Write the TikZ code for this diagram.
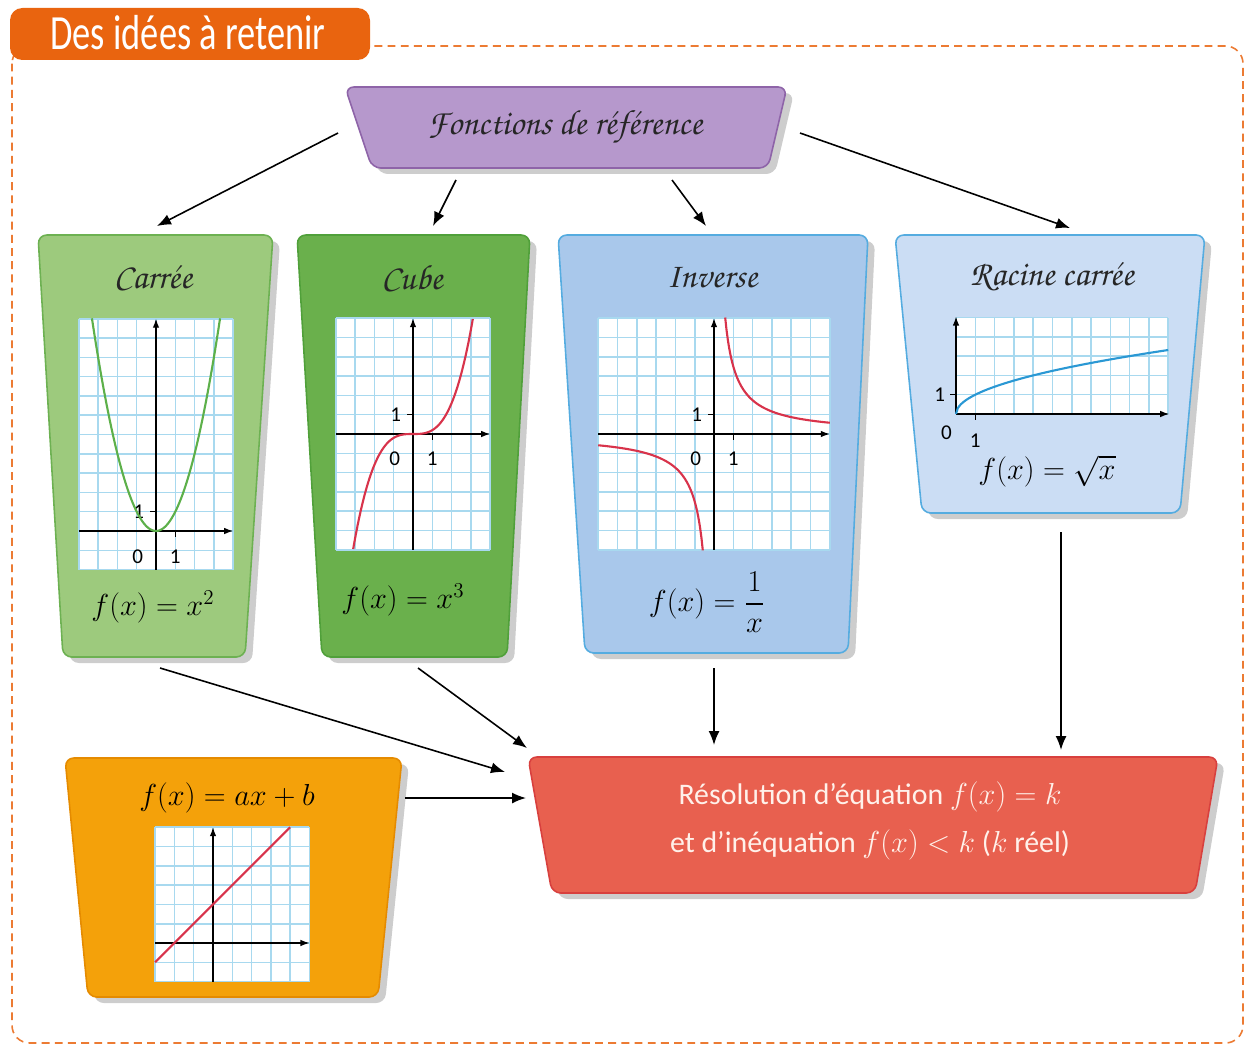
\documentclass[tikz,border=0pt]{standalone}
\usepackage[T1]{fontenc}
\usepackage{amsmath}
\usepackage{graphicx}
\usepackage{fontspec}
\setmainfont{Carlito}
\usepackage{tikz}
\usetikzlibrary{arrows.meta, positioning, calc}
\definecolor{tabOrange}{HTML}{E9640F}
\definecolor{frameOrange}{HTML}{EC7B33}
\definecolor{foncFill}{HTML}{B698CC}
\definecolor{foncDraw}{HTML}{8E64A8}
\definecolor{carreeFill}{HTML}{9DCA7D}
\definecolor{carreeDraw}{HTML}{6DB152}
\definecolor{cubeFill}{HTML}{6AB04C}
\definecolor{cubeDraw}{HTML}{50A03A}
\definecolor{inverseFill}{HTML}{A9C8EB}
\definecolor{racineFill}{HTML}{CBDDF4}
\definecolor{blueDraw}{HTML}{55ACE0}
\definecolor{affineFill}{HTML}{F4A10A}
\definecolor{affineDraw}{HTML}{E58B00}
\definecolor{resoFill}{HTML}{E8604F}
\definecolor{resoDraw}{HTML}{D8403E}
\definecolor{resoText}{HTML}{FFF1EA}
\definecolor{gridBlue}{HTML}{A8D9EF}
\definecolor{curveRed}{HTML}{D8334B}
\definecolor{curveGreen}{HTML}{5DB04A}
\definecolor{curveBlue}{HTML}{2A98D4}
\definecolor{shadowGray}{HTML}{CDCDCD}
\newcommand{\handfont}{\fontencoding{T1}\fontfamily{pzc}\fontseries{mb}\fontshape{it}\selectfont}
% one trapezoid card: style, top-left x, top-right x, top y, bottom-left x, bottom-right x, bottom y
\newcommand{\carte}[7]{%
  \fill[shadowbox, shift={(7,6)}] (#2,#4) -- (#3,#4) -- (#6,#7) -- (#5,#7) -- cycle;
  \path[carte, #1] (#2,#4) -- (#3,#4) -- (#6,#7) -- (#5,#7) -- cycle;
}
\tikzset{
carte/.style={
rounded corners=5pt,
line width=0.9pt
},
shadowbox/.style={
fill=shadowGray,
rounded corners=5pt
},
flow/.style={
-{Latex[length=2.8mm,width=2.2mm]},
line width=0.9pt,
draw=black
},
axis/.style={
-{Latex[length=1.8mm,width=1.3mm]},
line width=0.7pt,
draw=black
},
gridline/.style={
draw=gridBlue,
line width=0.9pt,
step=1
},
scripttitle/.style={
font=\handfont\fontsize{20}{22}\selectfont,
text=black!85
},
formula/.style={
font=\fontsize{17}{20}\selectfont,
text=black
},
ticklabel/.style={
font=\fontsize{12}{12}\selectfont,
inner sep=1pt
},
curve/.style={
line width=1.2pt,
samples=80
}
}

\begin{document}
\begin{tikzpicture}[x=0.02cm, y=-0.02cm]

\useasboundingbox (0,0) rectangle (1248,1051);

% frame and tab
\draw[frameOrange, line width=0.9pt, dash pattern=on 4.5pt off 3pt, rounded corners=10pt]
  (12,46) rectangle (1243,1043);
\fill[tabOrange, rounded corners=7pt] (10,8) rectangle (370,60);
\node[text=white, font=\fontsize{28}{28}\selectfont] (tab) at (188,33)
  {\scalebox{0.74}[1]{Des idées à retenir}};

% cards
\carte{fill=foncFill, draw=foncDraw}{345}{787}{87}{372}{768}{168}
\carte{fill=carreeFill, draw=carreeDraw}{38}{273}{235}{63}{245}{657}
\carte{fill=cubeFill, draw=cubeDraw}{297}{530}{235}{322}{507}{657}
\carte{fill=inverseFill, draw=blueDraw}{558}{868}{235}{585}{848}{653}
\carte{fill=racineFill, draw=blueDraw}{895}{1205}{235}{922}{1180}{513}
\carte{fill=affineFill, draw=affineDraw}{65}{402}{758}{88}{378}{997}
\carte{fill=resoFill, draw=resoDraw}{528}{1218}{757}{552}{1195}{893}

\node[scripttitle] (fonc) at (565,127) {Fonctions de r\'ef\'erence};
\node[scripttitle] (carree) at (153,277) {Carr\'ee};
\node[scripttitle] (cube) at (412,277) {Cube};
\node[scripttitle] (inverse) at (712,277) {Inverse};
\node[scripttitle] (racine) at (1052,277) {Racine carr\'ee};

\node[formula] (fcarree) at (153,607) {$f(x)=x^2$};
\node[formula] (fcube) at (403,600) {$f(x)=x^3$};
\node[formula] (finverse) at (707,602) {$f(x)=\dfrac{1}{x}$};
\node[formula] (fracine) at (1047,471) {$f(x)=\sqrt{x}$};
\node[formula] (faffine) at (227,798) {$f(x)=ax+b$};

\node[text=resoText, align=center, font=\fontsize{17}{27}\selectfont] (reso) at (870,821)
  {Résolution d’équation $f(x)=k$\\et d’inéquation $f(x)<k$ ($k$ réel)};

% carree graph
\begin{scope}[shift={(156,531)}, x=0.386cm, y=0.386cm]
  \fill[white] (-4,-2) rectangle (4,11);
  \draw[gridline] (-4,-2) grid (4,11);
  \draw[axis] (-4,0) -- (4,0);
  \draw[axis] (0,-2) -- (0,11);
  \draw[line width=0.6pt] (1,0) -- (1,-0.3) (0,1) -- (-0.3,1);
  \node[ticklabel] (cy1) at (-0.9,1) {1};
  \node[ticklabel] (co) at (-0.95,-1.35) {0};
  \node[ticklabel] (cx1) at (1,-1.35) {1};
  \draw[curve, curveGreen, domain=-3.32:3.32] plot (\x,{\x*\x});
\end{scope}

% cube graph
\begin{scope}[shift={(413,434)}, x=0.386cm, y=0.386cm]
  \fill[white] (-4,-6) rectangle (4,6);
  \draw[gridline] (-4,-6) grid (4,6);
  \draw[axis] (-4,0) -- (4,0);
  \draw[axis] (0,-6) -- (0,6);
  \draw[line width=0.6pt] (1,0) -- (1,-0.3) (0,1) -- (-0.3,1);
  \node[ticklabel] (uy1) at (-0.9,1) {1};
  \node[ticklabel] (uo) at (-0.95,-1.3) {0};
  \node[ticklabel] (ux1) at (1,-1.3) {1};
  \draw[curve, curveRed, domain=-3.1:3.1] plot (\x,{0.2*\x*\x*\x});
\end{scope}

% inverse graph
\begin{scope}[shift={(714,434)}, x=0.386cm, y=0.386cm]
  \fill[white] (-6,-6) rectangle (6,6);
  \draw[gridline] (-6,-6) grid (6,6);
  \draw[axis] (-6,0) -- (6,0);
  \draw[axis] (0,-6) -- (0,6);
  \draw[line width=0.6pt] (1,0) -- (1,-0.3) (0,1) -- (-0.3,1);
  \node[ticklabel] (iy1) at (-0.9,1) {1};
  \node[ticklabel] (io) at (-0.95,-1.3) {0};
  \node[ticklabel] (ix1) at (1,-1.3) {1};
  \draw[curve, curveRed, domain=0.58:6] plot (\x,{3.5/\x});
  \draw[curve, curveRed, domain=-6:-0.58] plot (\x,{3.5/\x});
\end{scope}

% racine graph
\begin{scope}[shift={(956,414)}, x=0.386cm, y=0.386cm]
  \fill[white] (0,0) rectangle (11,5);
  \draw[gridline] (0,0) grid (11,5);
  \draw[axis] (0,0) -- (11.05,0);
  \draw[axis] (0,0) -- (0,5.05);
  \draw[line width=0.6pt] (1,0) -- (1,-0.3) (0,1) -- (-0.3,1);
  \node[ticklabel] (ry1) at (-0.85,1) {1};
  \node[ticklabel] (ro) at (-0.5,-0.95) {0};
  \node[ticklabel] (rx1) at (1,-1.4) {1};
  \draw[curve, curveBlue, domain=0:11, samples=120] plot (\x,{sqrt(\x)});
\end{scope}

% affine graph
\begin{scope}[shift={(213,943)}, x=0.386cm, y=0.386cm]
  \fill[white] (-3,-2) rectangle (5,6);
  \draw[gridline] (-3,-2) grid (5,6);
  \draw[axis] (-3,0) -- (5,0);
  \draw[axis] (0,-2) -- (0,6);
  \draw[curve, curveRed] (-3,-1) -- (4,6);
\end{scope}

% connector ends
\coordinate (fonc-w) at (338,133);
\coordinate (fonc-sw) at (456,180);
\coordinate (fonc-se) at (672,180);
\coordinate (fonc-e) at (800,133);
\coordinate (carree-in) at (157,226);
\coordinate (cube-in) at (433,226);
\coordinate (inverse-in) at (706,226);
\coordinate (racine-in) at (1070,228);
\coordinate (carree-out) at (160,668);
\coordinate (cube-out) at (418,668);
\coordinate (inverse-out) at (714,668);
\coordinate (racine-out) at (1061,532);
\coordinate (affine-out) at (405,798);
\coordinate (reso-w) at (526,798);
\coordinate (reso-wa) at (505,772);
\coordinate (reso-nw) at (527,748);
\coordinate (reso-n) at (714,745);
\coordinate (reso-ne) at (1061,750);

\draw[flow] (fonc-w) -- (carree-in);
\draw[flow] (fonc-sw) -- (cube-in);
\draw[flow] (fonc-se) -- (inverse-in);
\draw[flow] (fonc-e) -- (racine-in);
\draw[flow] (carree-out) -- (reso-wa);
\draw[flow] (cube-out) -- (reso-nw);
\draw[flow] (inverse-out) -- (reso-n);
\draw[flow] (racine-out) -- (reso-ne);
\draw[flow] (affine-out) -- (reso-w);

\end{tikzpicture}
\end{document}
